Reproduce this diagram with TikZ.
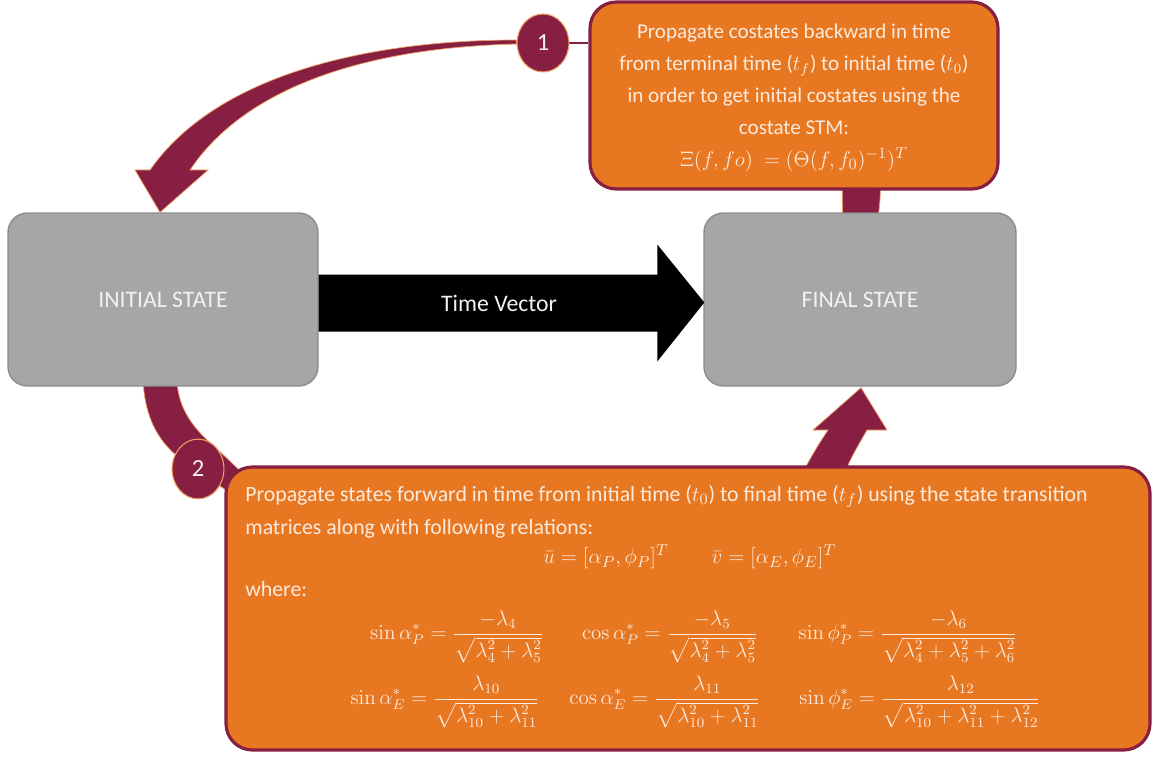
\documentclass[tikz,border=0pt]{standalone}
\usepackage[no-math]{fontspec}
\setmainfont{Carlito}
\usepackage{amsmath}
\usetikzlibrary{shapes.geometric,fit,calc}

\definecolor{vtmaroon}{HTML}{861F41}
\definecolor{vtorange}{HTML}{E87722}
\definecolor{boxgray}{HTML}{A6A6A6}
\definecolor{boxedge}{HTML}{8C8C8C}
\definecolor{softwhite}{HTML}{F4F1EE}
\definecolor{creamtext}{HTML}{FCEBDD}

\pgfdeclarelayer{back}
\pgfsetlayers{back,main}

\tikzset{
  statebox/.style={draw=boxedge, line width=0.8pt, fill=boxgray, rounded corners=11pt, inner sep=0pt},
  statelabel/.style={text=softwhite, inner sep=0pt, font=\fontsize{13.5}{16}\selectfont},
  notebox/.style={draw=vtmaroon, line width=1.8pt, fill=vtorange, rounded corners=15pt, inner sep=0pt},
  numdisc/.style={ellipse, fill=vtmaroon, draw=vtorange!70, line width=0.6pt, text=softwhite,
    font=\fontsize{14}{16}\selectfont, minimum width=29.5pt, minimum height=33pt, inner sep=0pt},
  band/.style={fill=vtmaroon, draw=vtorange!70, line width=0.4pt},
  notetext/.style={text=creamtext, inner sep=0pt, font=\fontsize{12.4}{18}\selectfont},
  mathtext/.style={text=creamtext, inner sep=0pt, font=\fontsize{11.8}{14}\selectfont},
}

\begin{document}
\begin{tikzpicture}[x=0.02cm, y=-0.02cm]
\useasboundingbox (0,0) rectangle (1157,757);

% ---- state blocks ----
\node[statebox, fit={(8,213) (318,386)}] (init) {};
\node[statelabel] (initlbl) at (163,300) {INITIAL STATE};
\node[statebox, fit={(704,213) (1016,386)}] (final) {};
\node[statelabel] (finallbl) at (860,300) {FINAL STATE};

% ---- time vector arrow ----
\fill[black] ($(init.east)+(0,-25)$) -- ($(final.west)+(-46,-25)$) -- ($(final.west)+(-46,-55)$)
  -- ($(final.west)+(1,3)$) -- ($(final.west)+(-46,62)$) -- ($(final.west)+(-46,32)$)
  -- ($(init.east)+(0,32)$) -- cycle;
\node[text=softwhite, font=\fontsize{13.5}{16}\selectfont] (tv) at (499,303) {Time Vector};

% ---- note 1: costate propagation ----
\node[notebox, fit={(590,2) (998,189)}] (note1) {};
\node[align=center, text=creamtext, inner sep=0pt, font=\fontsize{12}{18.2}\selectfont] (note1txt) at (794,98)
  {Propagate costates backward in time\\
   from terminal time ($t_f$) to initial time ($t_0$)\\
   in order to get initial costates using the\\
   costate STM:\\
   \mbox{\fontsize{13}{15}\selectfont $\Xi(f,fo)\ = (\Theta(f,f_0)^{-1})^T$}};

% ---- note 2: state propagation ----
\node[notebox, fit={(226,467) (1150,750)}] (note2) {};
\node[notetext, anchor=base west] (l1) at (245,501)
  {Propagate states forward in time from initial time ($t_0$) to final time ($t_f$) using the state transition};
\node[notetext, anchor=base west] (l2) at (245,534) {matrices along with following relations:};
\node[mathtext, font=\fontsize{12.5}{14}\selectfont] (ubar) at (606,557) {$\bar u=[\alpha_P,\phi_P]^T$};
\node[mathtext, font=\fontsize{12.5}{14}\selectfont] (vbar) at (774,557) {$\bar v=[\alpha_E,\phi_E]^T$};
\node[notetext, anchor=base west] (l3) at (245,596) {where:};

\node[mathtext] (e1) at (457,637) {$\displaystyle \sin\alpha_P^* = \frac{-\lambda_4}{\sqrt{\lambda_4^2+\lambda_5^2}}$};
\node[mathtext] (e2) at (670,637) {$\displaystyle \cos\alpha_P^* = \frac{-\lambda_5}{\sqrt{\lambda_4^2+\lambda_5^2}}$};
\node[mathtext] (e3) at (908,637) {$\displaystyle \sin\phi_P^* = \frac{-\lambda_6}{\sqrt{\lambda_4^2+\lambda_5^2+\lambda_6^2}}$};
\node[mathtext] (e4) at (445,702) {$\displaystyle \sin\alpha_E^* = \frac{\lambda_{10}}{\sqrt{\lambda_{10}^2+\lambda_{11}^2}}$};
\node[mathtext] (e5) at (665,702) {$\displaystyle \cos\alpha_E^* = \frac{\lambda_{11}}{\sqrt{\lambda_{10}^2+\lambda_{11}^2}}$};
\node[mathtext] (e6) at (920,702) {$\displaystyle \sin\phi_E^* = \frac{\lambda_{12}}{\sqrt{\lambda_{10}^2+\lambda_{11}^2+\lambda_{12}^2}}$};

% ---- step markers ----
\node[numdisc] (c1) at (543,43) {1};
\node[numdisc, minimum height=34pt] (c2) at (198,469) {2};

% ---- curved maroon arrows, kept behind the boxes ----
\begin{pgfonlayer}{back}
  % link from marker 1 to its note
  \draw[vtmaroon, line width=1.5pt] (c1.east) -- (c1.east -| note1.west);
  % arrow 1: from marker 1 down onto the initial state
  \fill[band] ($(c1.west)+(0,-3)$) .. controls (380,40) and (220,70) .. (150,170)
    -- (135,170) -- ($(init.north)+(-3,0)$) -- (208,170) -- (190,170)
    .. controls (240,95) and (350,48) .. ($(c1.west)+(0,1)$) -- cycle;
  % tail of arrow 1 rising from the final state into note 1
  \fill[band] ($(final.north)+(-17,5)$) .. controls (842,205) and (842,190) .. (843,175)
    -- (880,175) .. controls (881,190) and (880,205) .. ($(final.north)+(18,5)$) -- cycle;
  % arrow 2: from the initial state through marker 2 into note 2
  \fill[band] (143,380) .. controls (145,420) and (160,445) .. (185,462)
    -- (200,472) -- (240,500) -- (252,482)
    -- (215,447) .. controls (195,430) and (178,410) .. (177,380) -- cycle;
  % head of arrow 2 reaching the final state
  \fill[band] (800,478) .. controls (810,458) and (820,442) .. (828,430)
    -- (813,430) -- ($(final.south)+(1,1)$) -- (887,430) -- (867,430)
    .. controls (858,446) and (849,460) .. (843,478) -- cycle;
\end{pgfonlayer}
\end{tikzpicture}
\end{document}
